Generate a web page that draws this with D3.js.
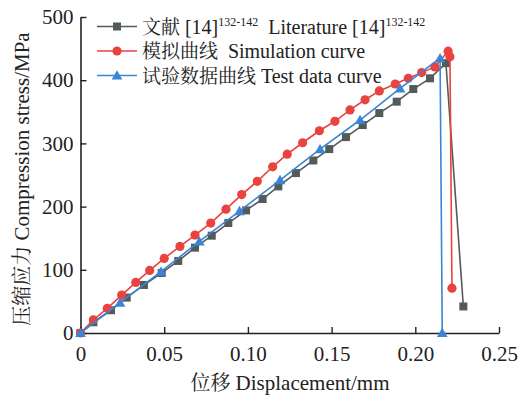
<!DOCTYPE html>
<html>
<head>
<meta charset="UTF-8">
<script src="https://d3js.org/d3.v7.min.js"></script>
</head>
<body style="margin:0">
<script>
// literature [14]
const litX = [0, 0.0077, 0.0182, 0.0276, 0.0379, 0.0485, 0.0584, 0.0684, 0.0784, 0.0883, 0.0989, 0.1088, 0.1182, 0.1287, 0.1391, 0.1486, 0.1586, 0.1686, 0.1785, 0.1889, 0.1988, 0.2088, 0.2183, 0.2287];
const litY = [0, 17, 36, 56, 76, 95, 114, 135, 154, 174, 194, 212, 232, 253, 273, 291, 310, 329, 348, 366, 386, 403, 427, 42];
// simulation curve
const simX = [0, 0.0077, 0.016, 0.0246, 0.033, 0.0413, 0.050, 0.0594, 0.0684, 0.0778, 0.0869, 0.0963, 0.1056, 0.1148, 0.1235, 0.1327, 0.1427, 0.152, 0.161, 0.170, 0.1785, 0.188, 0.1958, 0.2038, 0.2117, 0.2196, 0.2207, 0.2219];
const simY = [0, 21, 39, 60, 80, 99, 118, 137, 155, 174, 196, 219, 240, 263, 283, 301, 320, 335, 353, 369, 383, 394, 403, 412, 421, 446, 437, 71];
// test data curve
const testX = [0, 0.0236, 0.0481, 0.071, 0.095, 0.1192, 0.1431, 0.167, 0.1909, 0.2148, 0.2161];
const testY = [0, 48, 97, 145, 193, 242, 291, 337, 387, 435, 0];

const xTicks = [0, 0.05, 0.10, 0.15, 0.20, 0.25];
const xTickLabels = ['0', '0.05', '0.10', '0.15', '0.20', '0.25'];
const yTicks = [0, 100, 200, 300, 400, 500];

const SERIF = '"Liberation Serif"';
const CJK = '"Noto Serif CJK SC"';

const W = 520, H = 398;
const m = { left: 80.5, top: 17, right: 21, bottom: 65 };

const svg = d3.select('body').append('svg').attr('width', W).attr('height', H);

const x = d3.scaleLinear().domain([0, 0.25]).range([m.left, W - m.right]);
const y = d3.scaleLinear().domain([0, 500]).range([H - m.bottom, m.top]);

function serif(sel, size) {
  return sel.attr('font-family', 'Liberation Serif').style('font-family', SERIF).style('font-size', size + 'px');
}
function cjk(sel, size) {
  return sel.attr('font-family', 'Noto Serif CJK SC').style('font-family', CJK).style('font-size', size + 'px');
}

const xAxis = svg.append('g')
  .attr('transform', `translate(0, ${H - m.bottom})`)
  .call(d3.axisBottom(x).tickValues(xTicks).tickFormat((d, i) => xTickLabels[i]).tickSizeInner(-6).tickSizeOuter(0).tickPadding(13));
const yAxis = svg.append('g')
  .attr('transform', `translate(${m.left}, 0)`)
  .call(d3.axisLeft(y).tickValues(yTicks).tickSizeInner(-6).tickSizeOuter(0).tickPadding(7));

[xAxis, yAxis].forEach(a => {
  a.attr('font-family', 'Liberation Serif').attr('font-size', 21);
  a.select('.domain').attr('stroke', '#222').attr('stroke-width', 1.6);
  a.selectAll('.tick line').attr('stroke', '#222').attr('stroke-width', 1.4);
  serif(a.selectAll('.tick text'), 21).attr('fill', '#222');
});

const series = [
  { xs: litX, ys: litY, color: '#535b5a', shape: 'square' },
  { xs: simX, ys: simY, color: '#e8433f', shape: 'circle' },
  { xs: testX, ys: testY, color: '#3a85d4', shape: 'triangle' }
];

function marker(g, shape, color, cx, cy) {
  if (shape === 'square') {
    g.append('rect').attr('x', cx - 4).attr('y', cy - 4).attr('width', 8).attr('height', 8).attr('fill', color);
  } else if (shape === 'circle') {
    g.append('circle').attr('cx', cx).attr('cy', cy).attr('r', 4.6).attr('fill', color);
  } else {
    g.append('path').attr('d', d3.symbol(d3.symbolTriangle, 50)()).attr('transform', `translate(${cx}, ${cy + 1})`).attr('fill', color);
  }
}

const plot = svg.append('g');
series.forEach(s => {
  const pts = s.xs.map((d, i) => [d, s.ys[i]]);
  plot.append('path')
    .datum(pts)
    .attr('fill', 'none')
    .attr('stroke', s.color)
    .attr('stroke-width', 1.6)
    .attr('d', d3.line().x(d => x(d[0])).y(d => y(d[1])));
  const mg = plot.append('g');
  pts.forEach(p => marker(mg, s.shape, s.color, x(p[0]), y(p[1])));
});

// legend
const legendRows = [
  [{ t: '文献 ', cjk: true }, { t: '[14]' }, { t: '132-142', sup: true }, { t: '  Literature [14]' }, { t: '132-142', sup: true }],
  [{ t: '模拟曲线 ', cjk: true }, { t: ' Simulation curve' }],
  [{ t: '试验数据曲线 ', cjk: true }, { t: 'Test data curve' }]
];
const legend = svg.append('g');
legendRows.forEach((row, i) => {
  const ly = 26.5 + i * 24.5;
  const s = series[i];
  legend.append('line').attr('x1', 97).attr('x2', 137).attr('y1', ly).attr('y2', ly)
    .attr('stroke', s.color).attr('stroke-width', 1.6);
  marker(legend, s.shape, s.color, 117, ly);
  const t = serif(legend.append('text').attr('x', 142).attr('y', ly + 7).attr('fill', '#222'), 20)
    .style('white-space', 'pre');
  let prevSup = false;
  row.forEach(p => {
    const ts = t.append('tspan').text(p.t);
    if (p.cjk) cjk(ts, 19);
    else serif(ts, p.sup ? 12 : 20);
    if (p.sup) { ts.attr('dy', -8); prevSup = true; }
    else if (prevSup) { ts.attr('dy', 8); prevSup = false; }
  });
});

// axis titles
const xt = serif(svg.append('text').attr('x', 290).attr('y', 390).attr('text-anchor', 'middle').attr('fill', '#222'), 21);
cjk(xt.append('tspan'), 20).text('位移 ');
serif(xt.append('tspan'), 21).text('Displacement/mm');

const yt = serif(svg.append('text').attr('transform', `translate(29, ${(H - m.bottom + m.top) / 2 + 4}) rotate(-90)`)
  .attr('text-anchor', 'middle').attr('fill', '#222'), 21);
cjk(yt.append('tspan'), 20).text('压缩应力 ');
serif(yt.append('tspan'), 21).text('Compression stress/MPa');
</script>
</body>
</html>
